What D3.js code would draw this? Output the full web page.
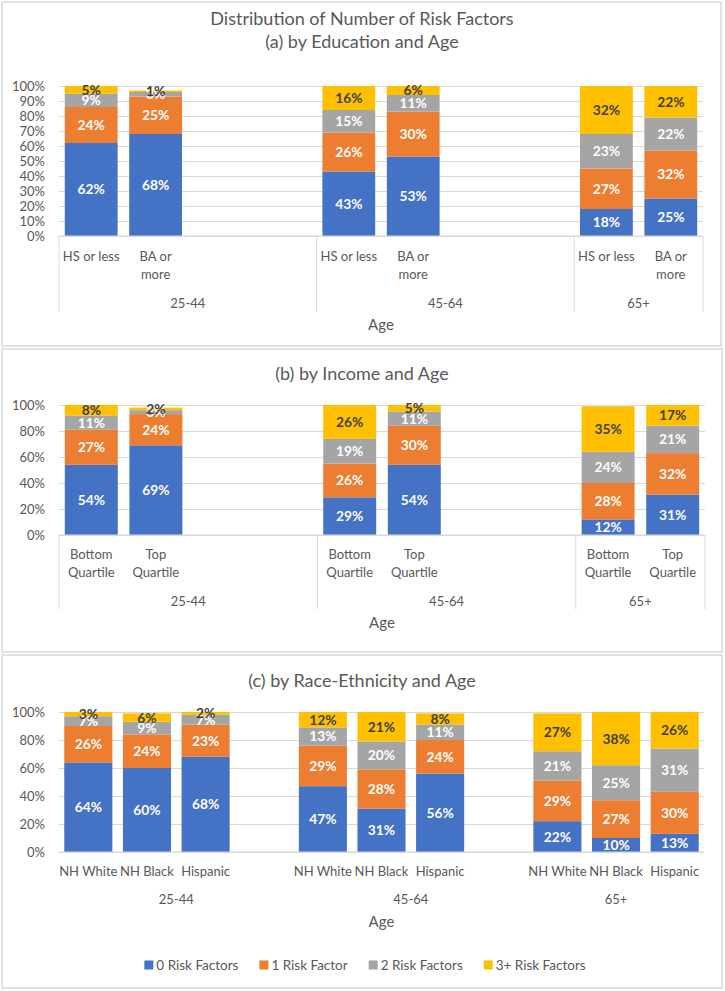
<!DOCTYPE html>
<html><head><meta charset="utf-8">
<script src="https://cdn.jsdelivr.net/npm/d3@7"></script>
<style>
body{margin:0;background:#fff}
svg{display:block}
text{font-family:Lato,"Open Sans",sans-serif}
</style>
</head><body>
<svg id="chart" width="725" height="991"></svg>
<script>
// ---------- data ----------
const seriesNames = ["0 Risk Factors", "1 Risk Factor", "2 Risk Factors", "3+ Risk Factors"];
const seriesColors = ["#4472C4", "#ED7D31", "#A5A5A5", "#FFC000"];
const labelColors = ["#ffffff", "#ffffff", "#ffffff", "#404040"];
const ageGroups = ["25-44", "45-64", "65+"];

const eduCategories = ["HS or less", "BA or\nmore"];
const edu0 = [62, 68, 43, 53, 18, 25];
const edu1 = [24, 25, 26, 30, 27, 32];
const edu2 = [9, 3, 15, 11, 23, 22];
const edu3 = [5, 1, 16, 6, 32, 22];
const eduTicks = [0, 10, 20, 30, 40, 50, 60, 70, 80, 90, 100];

const incCategories = ["Bottom\nQuartile", "Top\nQuartile"];
const inc0 = [54, 69, 29, 54, 12, 31];
const inc1 = [27, 24, 26, 30, 28, 32];
const inc2 = [11, 3, 19, 11, 24, 21];
const inc3 = [8, 2, 26, 5, 35, 17];
const incTicks = [0, 20, 40, 60, 80, 100];

const raceCategories = ["NH White", "NH Black", "Hispanic"];
const race0 = [64, 60, 68, 47, 31, 56, 22, 10, 13];
const race1 = [26, 24, 23, 29, 28, 24, 29, 27, 30];
const race2 = [7, 9, 7, 13, 20, 11, 21, 25, 31];
const race3 = [3, 6, 2, 12, 21, 8, 27, 38, 26];
const raceTicks = [0, 20, 40, 60, 80, 100];

// ---------- drawing ----------
const svg = d3.select("#chart");
const TXT = "#595959", GRID = "#d9d9d9";
const FS = 13, LBL_FS = 13.8, TITLE_FS = 18;

function drawPanel(cfg) {
  const g = svg.append("g");
  g.append("rect").attr("x", cfg.box[0]).attr("y", cfg.box[1])
    .attr("width", cfg.box[2]).attr("height", cfg.box[3])
    .attr("fill", "#fff").attr("stroke", GRID).attr("stroke-width", 1.5);

  cfg.titles.forEach(t => {
    g.append("text").attr("x", 362).attr("y", t[1]).attr("text-anchor", "middle")
      .attr("font-size", TITLE_FS).attr("fill", TXT).text(t[0]);
  });

  // slots (categories + blank spacers between age groups)
  const slots = [];
  const groupSpans = [];
  ageGroups.forEach((a, gi) => {
    const start = slots.length;
    cfg.cats.forEach((c, ci) => slots.push({ key: a + "|" + c, age: a, cat: c, i: gi * cfg.cats.length + ci }));
    if (gi < ageGroups.length - 1) for (let k = 0; k < cfg.gap; k++) slots.push({ key: a + "|gap" + k, blank: true });
    groupSpans.push({ age: a, start, count: slots.length - start });
  });
  const [x0, x1] = cfg.xr, [yb, yt] = cfg.yr;
  const x = d3.scaleBand().domain(slots.map(d => d.key)).range([x0, x1])
    .paddingInner(0.18).paddingOuter(0.09);
  const step = x.step();
  const y = d3.scaleLinear().domain([0, 100]).range([yb, yt]).clamp(true);

  // y axis with gridlines
  const ya = g.append("g").attr("transform", `translate(${x0},0)`)
    .call(d3.axisLeft(y).tickValues(cfg.ticks).tickFormat(d => d + "%")
      .tickSize(-(x1 - x0)).tickPadding(14));
  ya.select(".domain").remove();
  ya.selectAll(".tick line").attr("stroke", GRID).attr("stroke-width", 1);
  ya.selectAll(".tick text").attr("fill", TXT).attr("font-size", FS)
    .style("font-family", "Lato,'Open Sans',sans-serif");

  // bars
  const rows = slots.filter(d => !d.blank).map(d => {
    const r = { key: d.key };
    cfg.series.forEach((arr, si) => r["s" + si] = arr[d.i]);
    return r;
  });
  const keys = cfg.series.map((_, si) => "s" + si);
  const stacked = d3.stack().keys(keys)(rows);
  stacked.forEach((layer, si) => {
    const lg = g.append("g");
    lg.selectAll("rect").data(layer).join("rect")
      .attr("x", d => x(d.data.key)).attr("width", x.bandwidth())
      .attr("y", d => y(d[1])).attr("height", d => y(d[0]) - y(d[1]))
      .attr("fill", seriesColors[si]);
  });
  stacked.forEach((layer, si) => {
    g.append("g").selectAll("text").data(layer).join("text")
      .attr("x", d => x(d.data.key) + x.bandwidth() / 2)
      .attr("y", d => (y(d[0]) + y(d[1])) / 2)
      .attr("dy", "0.36em").attr("text-anchor", "middle")
      .attr("font-size", LBL_FS).attr("font-weight", "bold")
      .attr("fill", labelColors[si])
      .text(d => (d[1] - d[0]) + "%");
  });

  // category axis line
  g.append("line").attr("x1", x0).attr("x2", x1).attr("y1", yb).attr("y2", yb)
    .attr("stroke", GRID).attr("stroke-width", 1);

  // separators
  if (cfg.sepBottom) {
    const bounds = groupSpans.map(s => s.start).concat([slots.length]);
    g.selectAll(".sep").data(bounds).join("line")
      .attr("x1", b => x0 + b * step).attr("x2", b => x0 + b * step)
      .attr("y1", yb).attr("y2", cfg.sepBottom)
      .attr("stroke", GRID).attr("stroke-width", 1);
  }

  // category labels
  slots.filter(d => !d.blank).forEach(d => {
    const lines = d.cat.split("\n");
    lines.forEach((ln, li) => {
      g.append("text").attr("x", x(d.key) + x.bandwidth() / 2)
        .attr("y", cfg.catY + li * 18).attr("dy", "0.36em")
        .attr("text-anchor", "middle").attr("font-size", FS).attr("fill", TXT).text(ln);
    });
  });

  // group labels
  groupSpans.forEach(s => {
    g.append("text").attr("x", x0 + step * (s.start + s.count / 2))
      .attr("y", cfg.groupY).attr("dy", "0.36em").attr("text-anchor", "middle")
      .attr("font-size", FS).attr("fill", TXT).text(s.age);
  });

  // axis title
  g.append("text").attr("x", (x0 + x1) / 2).attr("y", cfg.ageY).attr("dy", "0.36em")
    .attr("text-anchor", "middle").attr("font-size", FS + 2).attr("fill", TXT).text("Age");
}

drawPanel({
  box: [2, 2, 719, 344],
  titles: [["Distribution of Number of Risk Factors", 25], ["(a) by Education and Age", 48]],
  cats: eduCategories, gap: 2, series: [edu0, edu1, edu2, edu3], ticks: eduTicks,
  xr: [59, 703], yr: [236, 86], catY: 256, groupY: 303, ageY: 325, sepBottom: 312
});
drawPanel({
  box: [2, 349, 720, 303],
  titles: [["(b) by Income and Age", 380]],
  cats: incCategories, gap: 2, series: [inc0, inc1, inc2, inc3], ticks: incTicks,
  xr: [59, 705], yr: [535, 405], catY: 554, groupY: 601, ageY: 623, sepBottom: 609
});
drawPanel({
  box: [2, 655, 720, 333],
  titles: [["(c) by Race-Ethnicity and Age", 687]],
  cats: raceCategories, gap: 1, series: [race0, race1, race2, race3], ticks: raceTicks,
  xr: [59, 704], yr: [852, 712], catY: 871, groupY: 899, ageY: 922, sepBottom: null
});

// legend
const leg = svg.append("g");
const items = seriesNames.map((n, i) => {
  const it = leg.append("g");
  it.append("rect").attr("width", 9).attr("height", 9).attr("y", -4.5).attr("fill", seriesColors[i]);
  const t = it.append("text").attr("x", 12).attr("dy", "0.36em").attr("font-size", FS + 0.5)
    .attr("fill", TXT).text(n);
  return { it, w: 12 + t.node().getComputedTextLength() };
});
const spacing = 21;
const total = d3.sum(items, d => d.w) + spacing * (items.length - 1);
let cx = 365 - total / 2;
items.forEach(d => { d.it.attr("transform", `translate(${cx},965)`); cx += d.w + spacing; });
</script>
</body></html>
